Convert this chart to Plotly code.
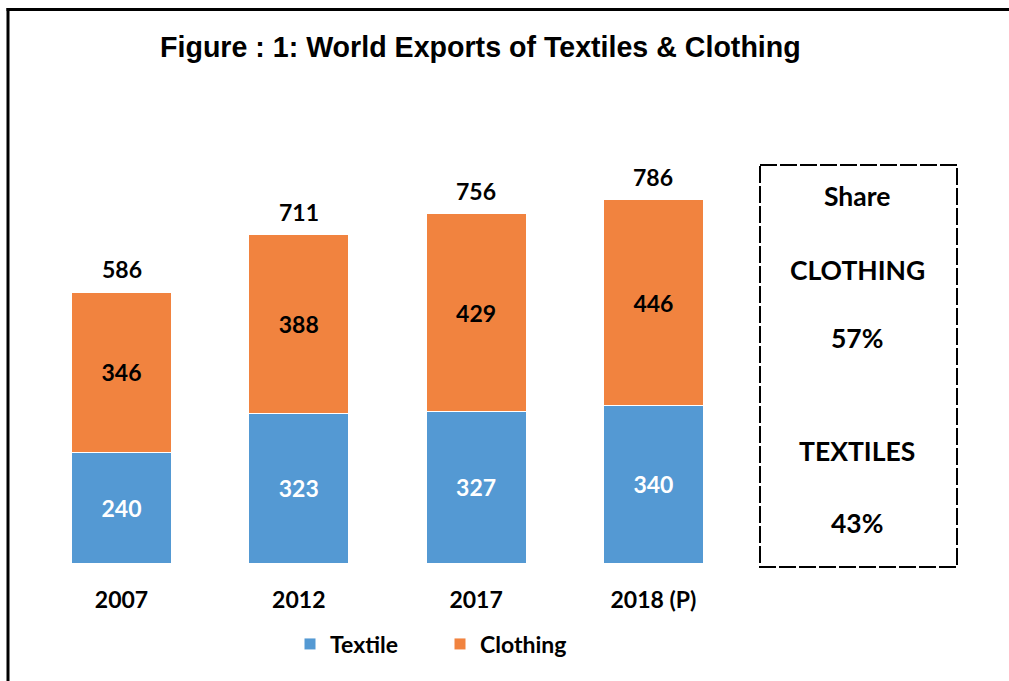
import plotly.graph_objects as go

years = ["2007", "2012", "2017", "2018 (P)"]
textile = [240, 323, 327, 340]
clothing = [346, 388, 429, 446]
totals = [t + c for t, c in zip(textile, clothing)]

W, H = 1009, 681
BLUE = "#5499D3"
ORANGE = "#F1833F"
NUMFONT = "Lato, Open Sans, sans-serif"

# pixel helpers (plot area fills whole page)
def px(x):
    return x / W

def py(y):
    return 1 - y / H

cat_px0, cat_step = 121.5, 177.3
y0_px, scale = 563.0, 0.462

fig = go.Figure()
fig.add_trace(go.Bar(
    x=years, y=textile, name="Textile", marker=dict(color=BLUE, line=dict(color="white", width=1)),
    text=textile, textposition="inside", insidetextanchor="middle",
    textfont=dict(family=NUMFONT, size=23, color="white", weight="bold"), constraintext="none",
))
fig.add_trace(go.Bar(
    x=years, y=clothing, name="Clothing", marker=dict(color=ORANGE, line=dict(color="white", width=1)),
    text=clothing, textposition="inside", insidetextanchor="middle",
    textfont=dict(family=NUMFONT, size=23, color="black", weight="bold"), constraintext="none",
))

x_lo = -cat_px0 / cat_step
x_hi = (W - cat_px0) / cat_step
y_lo = -(H - y0_px) / scale
y_hi = y0_px / scale

fig.update_layout(
    width=W, height=H, autosize=False,
    margin=dict(l=0, r=0, t=0, b=0),
    paper_bgcolor="white", plot_bgcolor="white",
    barmode="stack", bargap=1 - 100 / cat_step,
    font=dict(family=NUMFONT, color="black"),
    xaxis=dict(type="category", range=[x_lo, x_hi], showgrid=False, zeroline=False, showline=False,
               ticks="", anchor="free", position=py(584),
               tickfont=dict(family=NUMFONT, size=23, color="black", weight="bold")),
    yaxis=dict(range=[y_lo, y_hi], visible=False, domain=[0, 1]),
    showlegend=True,
    legend=dict(orientation="h", x=px(290), xanchor="left", y=py(644), yanchor="middle",
                font=dict(family=NUMFONT, size=23, color="black", weight="bold"),
                entrywidth=105, traceorder="normal", bgcolor="rgba(0,0,0,0)"),
)

# total labels above stacks (x given as category index)
for i, tot in enumerate(totals):
    fig.add_annotation(text=str(tot), x=i, y=tot, xref="x", yref="y", yanchor="bottom",
                       yshift=7, showarrow=False,
                       font=dict(family=NUMFONT, size=23, color="black", weight="bold"))

# title
fig.add_annotation(text="Figure : 1: World Exports of Textiles & Clothing",
                   xref="paper", yref="paper", x=px(480), y=py(47), xanchor="center", yanchor="middle",
                   showarrow=False, font=dict(family="Liberation Sans, Arial, sans-serif", size=28.6,
                                              color="black", weight="bold"))

# frame lines (left and top)
fig.add_shape(type="line", xref="paper", yref="paper", x0=px(8), x1=px(8), y0=0, y1=py(8),
              line=dict(color="black", width=3))
fig.add_shape(type="line", xref="paper", yref="paper", x0=px(6.5), x1=1, y0=py(9.5), y1=py(9.5),
              line=dict(color="black", width=3))

# share box
fig.add_shape(type="rect", xref="paper", yref="paper", x0=px(760), x1=px(957), y0=py(165), y1=py(567),
              line=dict(color="black", width=2, dash="17px,3px"), fillcolor="rgba(0,0,0,0)")
share_c = round(100 * clothing[-1] / totals[-1])
share_t = round(100 * textile[-1] / totals[-1])
box_texts = [("Share", 196), ("CLOTHING", 270), (f"{share_c}%", 338), ("TEXTILES", 451), (f"{share_t}%", 523)]
for t, yy in box_texts:
    fig.add_annotation(text=t, xref="paper", yref="paper", x=px(857), y=py(yy), xanchor="center",
                       yanchor="middle", showarrow=False,
                       font=dict(family=NUMFONT, size=26.5, color="black", weight="bold"))

fig.write_html("out.html")
